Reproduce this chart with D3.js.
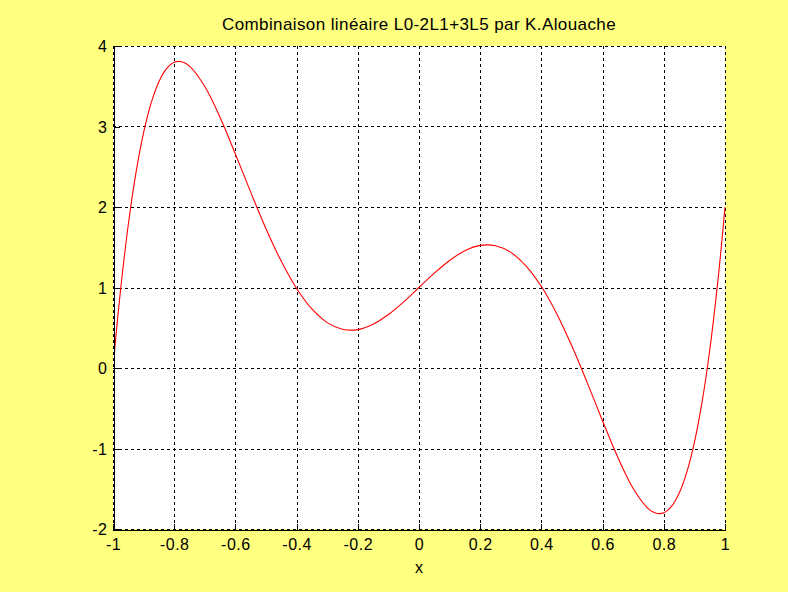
<!DOCTYPE html>
<html>
<head>
<meta charset="utf-8">
<script src="https://cdn.jsdelivr.net/npm/d3@7"></script>
<style>
  html, body { margin: 0; padding: 0; background: #ffff80; }
  svg { display: block; }
  text { font-family: "Liberation Sans", Arial, sans-serif; fill: #000; }
</style>
</head>
<body>
<svg id="chart" width="788" height="592"></svg>
<script>
// Samples of L0 - 2*L1 + 3*L5 on [-1, 1]
const xValues = [-0.995, -0.99, -0.975, -0.95, -0.925, -0.9, -0.875, -0.85, -0.825, -0.8, -0.775,
  -0.75, -0.7, -0.65, -0.6, -0.55, -0.5, -0.45, -0.4, -0.35, -0.3, -0.25, -0.2, -0.15, -0.1, -0.05,
  0, 0.05, 0.1, 0.15, 0.2, 0.25, 0.3, 0.35, 0.4, 0.45, 0.5, 0.55, 0.6, 0.65, 0.7, 0.75,
  0.775, 0.8, 0.825, 0.85, 0.875, 0.9, 0.925, 0.95, 0.975, 0.99, 1.0];
const yValues = [0.211, 0.414, 0.980, 1.782, 2.424, 2.923, 3.296, 3.557, 3.720, 3.799, 3.804,
  3.749, 3.496, 3.111, 2.658, 2.185, 1.730, 1.325, 0.988, 0.733, 0.564, 0.481, 0.477, 0.543, 0.664, 0.822,
  1.000, 1.178, 1.336, 1.457, 1.523, 1.519, 1.436, 1.267, 1.012, 0.675, 0.270, -0.185, -0.658, -1.111, -1.496, -1.749,
  -1.804, -1.799, -1.720, -1.557, -1.296, -0.923, -0.424, 0.218, 1.020, 1.586, 2.000];

const xTicks = [-1, -0.8, -0.6, -0.4, -0.2, 0, 0.2, 0.4, 0.6, 0.8, 1];
const yTicks = [-2, -1, 0, 1, 2, 3, 4];
const titleText = "Combinaison linéaire L0-2L1+3L5 par K.Alouache";
const xLabelText = "x";

const svg = d3.select("#chart");
const plotLeft = 113, plotRight = 725, plotTop = 46, plotBottom = 529;

const x = d3.scaleLinear().domain([-1, 1]).range([plotLeft, plotRight]);
const y = d3.scaleLinear().domain([-2, 4]).range([plotBottom, plotTop]);

// Plot area
svg.append("rect")
  .attr("x", plotLeft).attr("y", plotTop)
  .attr("width", plotRight - plotLeft).attr("height", plotBottom - plotTop)
  .attr("fill", "#ffffff");

// Grid lines
const grid = svg.append("g")
  .attr("stroke", "#000").attr("stroke-width", 1)
  .attr("stroke-dasharray", "3,3").attr("shape-rendering", "crispEdges");
grid.selectAll("line.v").data(xTicks).enter().append("line")
  .attr("x1", d => Math.round(x(d)) + 0.5).attr("x2", d => Math.round(x(d)) + 0.5)
  .attr("y1", plotTop).attr("y2", plotBottom);
grid.selectAll("line.h").data(yTicks).enter().append("line")
  .attr("y1", d => Math.round(y(d)) + 0.5).attr("y2", d => Math.round(y(d)) + 0.5)
  .attr("x1", plotLeft).attr("x2", plotRight);

// Curve
const points = xValues.map((v, i) => [v, yValues[i]]);
svg.append("path")
  .datum(points)
  .attr("fill", "none")
  .attr("stroke", "#ff0000")
  .attr("stroke-width", 1.1)
  .attr("d", d3.line().x(d => x(d[0])).y(d => y(d[1])).curve(d3.curveCatmullRom.alpha(0.5)));

// Axes (inward ticks)
const fmt = d => String(d);
const xAxis = d3.axisBottom(x).tickValues(xTicks).tickSize(-6).tickPadding(10).tickFormat(fmt);
const gx = svg.append("g")
  .attr("transform", `translate(0,${Math.round(y(-2)) + 0.5})`)
  .call(xAxis);
const yAxis = d3.axisLeft(y).tickValues(yTicks).tickSize(-6).tickPadding(6).tickFormat(fmt);
const gy = svg.append("g")
  .attr("transform", `translate(${Math.round(x(-1)) + 0.5},0)`)
  .call(yAxis);

[gx, gy].forEach(g => {
  g.select(".domain").attr("stroke", "#000").attr("shape-rendering", "crispEdges");
  g.selectAll(".tick line").attr("stroke", "#000").attr("shape-rendering", "crispEdges");
  g.selectAll(".tick text")
    .style("font-family", '"Liberation Sans", Arial, sans-serif')
    .style("font-size", "16px").style("letter-spacing", "0.5px").attr("fill", "#000");
});
gx.selectAll(".tick text").attr("y", 20).attr("dy", "0");
gy.selectAll(".tick text").attr("dy", "0.36em");

// Title and axis label
svg.append("text")
  .attr("x", (plotLeft + plotRight) / 2).attr("y", 30)
  .attr("text-anchor", "middle")
  .style("font-size", "17px")
  .style("letter-spacing", "0.4px")
  .text(titleText);

svg.append("text")
  .attr("x", (plotLeft + plotRight) / 2).attr("y", 573)
  .attr("text-anchor", "middle")
  .style("font-size", "16px")
  .text(xLabelText);
</script>
</body>
</html>
